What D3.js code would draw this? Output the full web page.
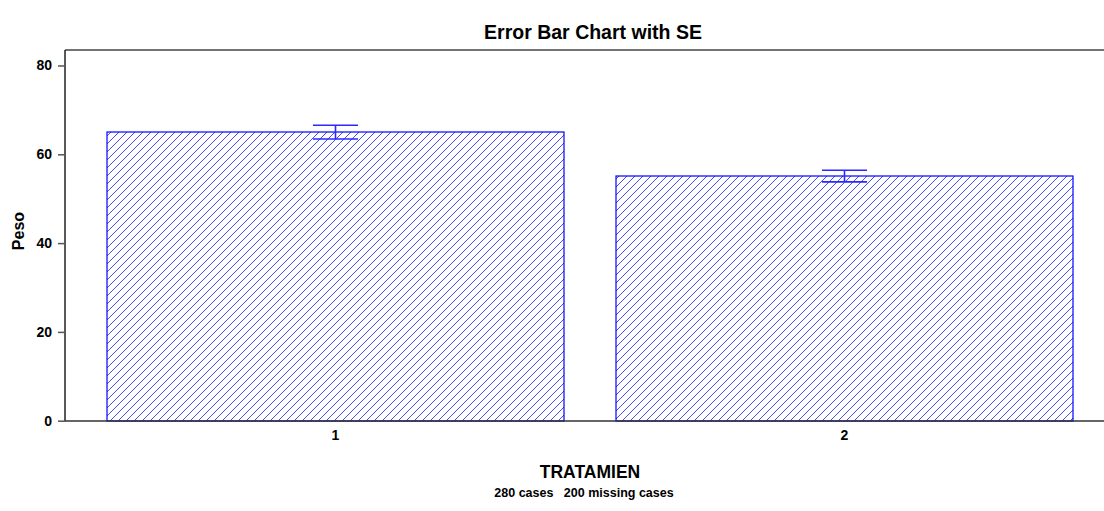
<!DOCTYPE html>
<html>
<head>
<meta charset="utf-8">
<script src="https://cdn.jsdelivr.net/npm/d3@7"></script>
<style>
	body { margin: 0; background: #fff; }
	text { font-family: "Liberation Sans", Arial, sans-serif; font-weight: bold; fill: #000; }
</style>
</head>
<body>
<div id="chart"></div>
<script>
// chart values
const categories = ['1', '2'];
const means = [65.0, 55.1];
const stdErrors = [1.55, 1.3];
const yTicks = [0, 20, 40, 60, 80];

const width = 1104, height = 511;
const plot = {left: 65, top: 50, right: 1104, bottom: 421};
const hatchStep = 8;
const hatchPhase = 3; // lines where x + y = 3 (mod 8), same grid for every bar

const svg = d3.select('#chart').append('svg')
	.attr('width', width)
	.attr('height', height);

const x = d3.scaleBand()
	.domain(categories)
	.range([81, 1099])
	.paddingInner(0.102)
	.paddingOuter(0.051)
	.round(true);

const y = d3.scaleLinear()
	.domain([0, 80])
	.range([420.7, 65.5]);

const defs = svg.append('defs');

// bars: white fill, diagonal hatch clipped to each bar, blue outline
const bars = svg.append('g');
categories.forEach((c, i) => {
	const bx = x(c), bw = x.bandwidth();
	const by = Math.round(y(means[i])), bh = Math.round(y(0)) - by;
	const clipId = `clip-${i}`;
	defs.append('clipPath').attr('id', clipId)
		.append('rect').attr('x', bx).attr('y', by).attr('width', bw).attr('height', bh);

	bars.append('rect')
		.attr('x', bx).attr('y', by).attr('width', bw).attr('height', bh)
		.attr('fill', '#fff');

	const kMin = bx + by;
	const kStart = kMin + ((hatchPhase - kMin) % hatchStep + hatchStep) % hatchStep;
	const ks = d3.range(kStart, bx + bw + by + bh + hatchStep, hatchStep);
	bars.append('g')
		.attr('clip-path', `url(#${clipId})`)
		.attr('shape-rendering', 'crispEdges')
		.selectAll('line')
		.data(ks)
		.join('line')
		.attr('x1', k => k - (by + bh))
		.attr('y1', by + bh)
		.attr('x2', k => k - by)
		.attr('y2', by)
		.attr('stroke', '#4848ff')
		.attr('stroke-width', 1);

	bars.append('rect')
		.attr('x', bx).attr('y', by).attr('width', bw).attr('height', bh)
		.attr('fill', 'none')
		.attr('stroke', '#0000ff')
		.attr('stroke-width', 1.2);
});

// error bars
const capW = 45;
const err = svg.append('g').attr('stroke', '#2a2aff').attr('stroke-width', 1.6);
categories.forEach((c, i) => {
	const cx = x(c) + x.bandwidth() / 2;
	const hi = y(means[i] + stdErrors[i]);
	const lo = y(means[i] - stdErrors[i]);
	err.append('line').attr('x1', cx).attr('x2', cx).attr('y1', hi).attr('y2', lo);
	err.append('line').attr('x1', cx - capW / 2).attr('x2', cx + capW / 2).attr('y1', hi).attr('y2', hi);
	err.append('line').attr('x1', cx - capW / 2).attr('x2', cx + capW / 2).attr('y1', lo).attr('y2', lo);
});

// frame
svg.append('line')
	.attr('x1', plot.left).attr('x2', plot.right)
	.attr('y1', plot.top).attr('y2', plot.top)
	.attr('stroke', '#444').attr('stroke-width', 1.5);

// y axis
const yAxis = svg.append('g')
	.attr('transform', `translate(${plot.left},0)`)
	.call(d3.axisLeft(y).tickValues(yTicks).tickSize(7).tickPadding(6).tickSizeOuter(0));
yAxis.select('.domain').attr('stroke', '#222').attr('stroke-width', 1.5)
	.attr('d', `M0,${plot.top}V${plot.bottom}`);
yAxis.selectAll('.tick line').attr('stroke', '#555').attr('stroke-width', 1.5);
yAxis.selectAll('.tick text').attr('font-size', 14).style('font-weight', 'bold');

// x axis
const xAxis = svg.append('g')
	.attr('transform', `translate(0,${plot.bottom})`)
	.call(d3.axisBottom(x).tickSize(0).tickPadding(9));
xAxis.select('.domain').attr('stroke', '#333').attr('stroke-width', 1.5)
	.attr('d', `M${plot.left},0H${plot.right}`);
xAxis.selectAll('.tick text').attr('font-size', 14).style('font-weight', 'bold');

// titles
svg.append('text')
	.attr('x', 593).attr('y', 39)
	.attr('text-anchor', 'middle')
	.attr('font-size', 19.5)
	.text('Error Bar Chart with SE');

svg.append('text')
	.attr('transform', 'translate(24,231) rotate(-90)')
	.attr('text-anchor', 'middle')
	.attr('font-size', 16)
	.text('Peso');

svg.append('text')
	.attr('x', 590).attr('y', 478)
	.attr('text-anchor', 'middle')
	.attr('font-size', 17.5)
	.text('TRATAMIEN');

svg.append('text')
	.attr('x', 584).attr('y', 497)
	.attr('text-anchor', 'middle')
	.attr('font-size', 12.5)
	.attr('xml:space', 'preserve')
	.style('white-space', 'pre')
	.text('280 cases   200 missing cases');
</script>
</body>
</html>
